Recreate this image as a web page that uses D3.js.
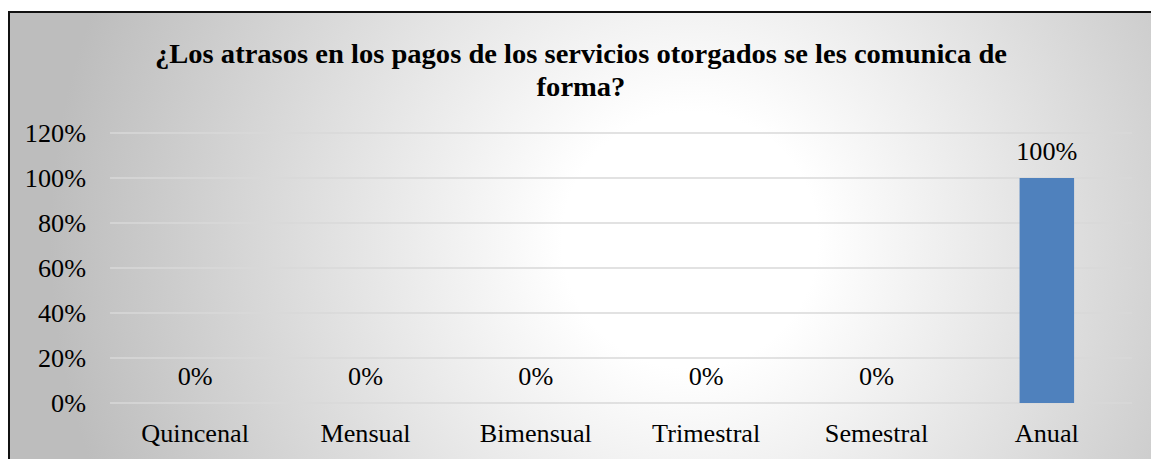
<!DOCTYPE html>
<html>
<head>
<meta charset="utf-8">
<script src="https://cdn.jsdelivr.net/npm/d3@7"></script>
<style>
  body { margin: 0; background: #fff; }
  svg { display: block; }
</style>
</head>
<body>
<svg id="chart" width="1151" height="459" font-family="Liberation Serif"></svg>
<script>
// data
const categories = ["Quincenal", "Mensual", "Bimensual", "Trimestral", "Semestral", "Anual"];
const values = [0, 0, 0, 0, 0, 1];
const yTicks = [0, 0.2, 0.4, 0.6, 0.8, 1.0, 1.2];
const titleLines = ["¿Los atrasos en los pagos de los servicios otorgados se les comunica de", "forma?"];

const svg = d3.select("#chart");
const W = 1151, H = 459;
const FONT = "Liberation Serif";
const STRETCH = "scale(1.07,1)"; // text in the source is a bit wider than tall

// background gradient
const defs = svg.append("defs");
const grad = defs.append("radialGradient")
  .attr("id", "bg")
  .attr("gradientUnits", "userSpaceOnUse")
  .attr("cx", 690).attr("cy", 240).attr("r", 640);
grad.append("stop").attr("offset", "0%").attr("stop-color", "#ffffff");
grad.append("stop").attr("offset", "20%").attr("stop-color", "#ffffff");
grad.append("stop").attr("offset", "100%").attr("stop-color", "#bdbdbd");

svg.append("rect")
  .attr("x", 9).attr("y", 12)
  .attr("width", W + 10).attr("height", H + 10)
  .attr("fill", "url(#bg)")
  .attr("stroke", "#111")
  .attr("stroke-width", 2);

// plot area
const plotLeft = 110, plotRight = 1132, plotTop = 133, plotBottom = 403;

const x = d3.scaleBand()
  .domain(categories)
  .range([plotLeft, plotRight])
  .paddingInner(0.68)
  .paddingOuter(0.34);

const y = d3.scaleLinear()
  .domain([0, 1.2])
  .range([plotBottom, plotTop]);

// gridlines
svg.append("g")
  .selectAll("line")
  .data(yTicks)
  .join("line")
  .attr("x1", plotLeft).attr("x2", plotRight)
  .attr("y1", d => y(d)).attr("y2", d => y(d))
  .attr("stroke", "#d9d9d9")
  .attr("stroke-width", 1.5);

// y axis labels
const yAxis = d3.axisLeft(y)
  .tickValues(yTicks)
  .tickFormat(d3.format(".0%"))
  .tickSize(0)
  .tickPadding(0);
svg.append("g")
  .attr("transform", `translate(86,0)`)
  .call(yAxis)
  .attr("font-family", FONT)
  .attr("font-size", 24.5)
  .call(g => g.select(".domain").remove())
  .selectAll("text")
  .attr("font-family", FONT)
  .attr("x", 0)
  .attr("dy", "0.33em")
  .attr("transform", STRETCH)
  .attr("fill", "#000");

// x axis labels
const xAxis = d3.axisBottom(x).tickSize(0).tickPadding(0);
svg.append("g")
  .attr("transform", `translate(0,${plotBottom})`)
  .call(xAxis)
  .attr("font-family", FONT)
  .attr("font-size", 24.5)
  .call(g => g.select(".domain").remove())
  .selectAll("text")
  .attr("font-family", FONT)
  .attr("dy", 0)
  .attr("y", 39)
  .attr("transform", STRETCH)
  .attr("fill", "#000");

// bars
svg.append("g")
  .selectAll("rect")
  .data(values)
  .join("rect")
  .attr("x", (d, i) => x(categories[i]))
  .attr("y", d => y(d))
  .attr("width", x.bandwidth())
  .attr("height", d => plotBottom - y(d))
  .attr("fill", "#4f81bd");

// value labels
svg.append("g")
  .selectAll("text")
  .data(values)
  .join("text")
  .attr("transform", (d, i) => `translate(${x(categories[i]) + x.bandwidth() / 2},${y(d) - 18}) ${STRETCH}`)
  .attr("text-anchor", "middle")
  .attr("font-family", FONT)
  .attr("font-size", 24.5)
  .attr("fill", "#000")
  .text(d => d3.format(".0%")(d));

// title
svg.append("g")
  .selectAll("text")
  .data(titleLines)
  .join("text")
  .attr("transform", (d, i) => `translate(581,${63 + i * 33}) ${STRETCH}`)
  .attr("text-anchor", "middle")
  .attr("font-family", FONT)
  .attr("font-size", 26.7)
  .attr("font-weight", "bold")
  .attr("fill", "#000")
  .text(d => d);
</script>
</body>
</html>
